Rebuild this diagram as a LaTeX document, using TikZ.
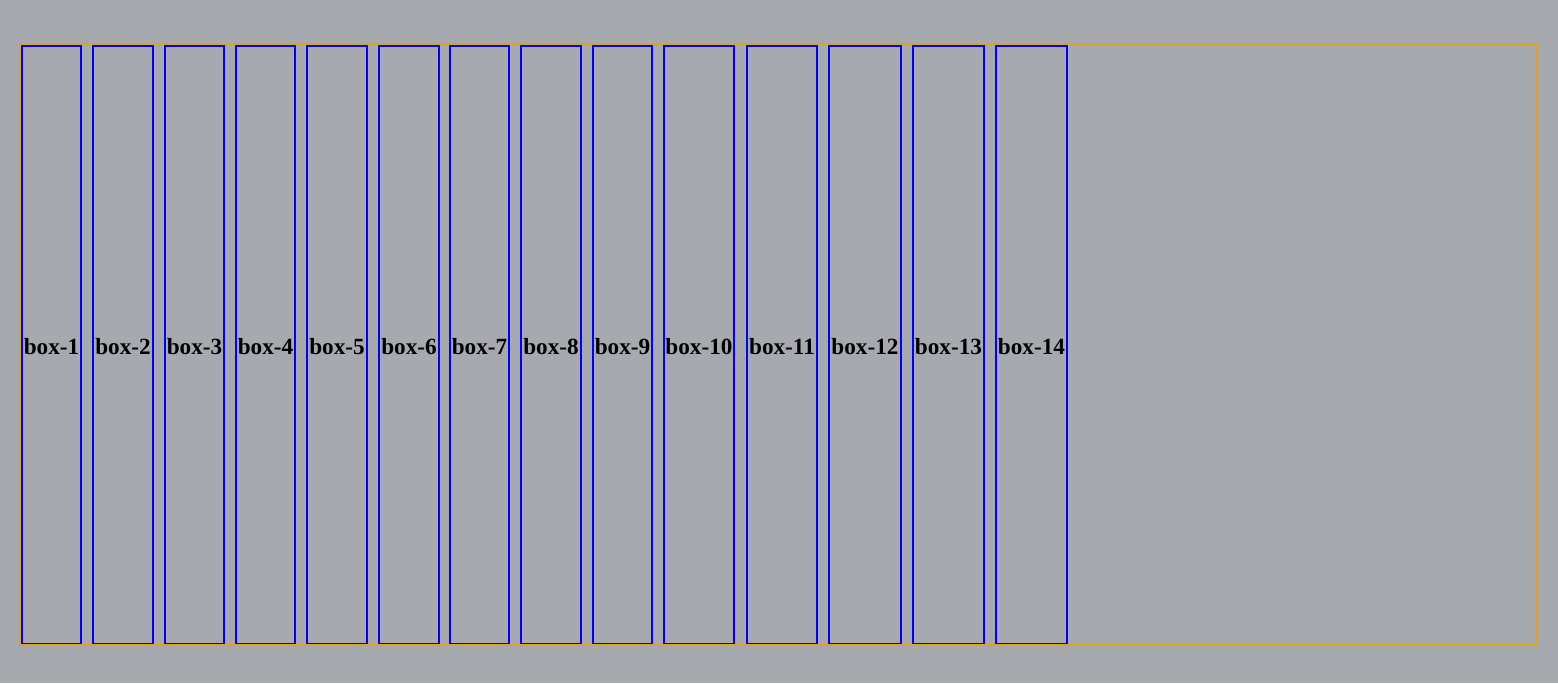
\documentclass[tikz,border=0pt]{standalone}
\usepackage{fontspec}
\setmainfont{Liberation Serif}
\definecolor{bgc}{RGB}{166,170,174}
\definecolor{orng}{RGB}{218,165,32}
\begin{document}
\begin{tikzpicture}[x=1pt,y=-1pt,
  itembox/.style={draw=blue,line width=1.8pt,inner sep=0pt,minimum height=597.5pt,font=\fontsize{23.2}{27}\selectfont\bfseries,text=black,text height=18.5pt,text depth=0pt},
  frame/.style={draw=orng,line width=1.8pt}]
\fill[bgc] (0,0) rectangle (1558,683);
\useasboundingbox (0,0) rectangle (1558,683);
\node[frame,inner sep=0pt,minimum width=1517pt,minimum height=601pt] (cont) at (778.5,344.5) {};
\foreach \n/\l/\r in {1/22/81,2/93/153,3/165/224,4/236/295,5/307/367,6/379/439,7/450/509,8/521/581,9/593/652,10/664/734,11/747/817,12/829/901,13/913/984,14/996/1067}{
  \pgfmathsetmacro{\cx}{(\l+\r)/2}
  \pgfmathsetmacro{\w}{\r-\l}
  \node[itembox,minimum width=\w pt] (b\n) at (\cx,344.75) {box-\n};
}
\end{tikzpicture}
\end{document}
